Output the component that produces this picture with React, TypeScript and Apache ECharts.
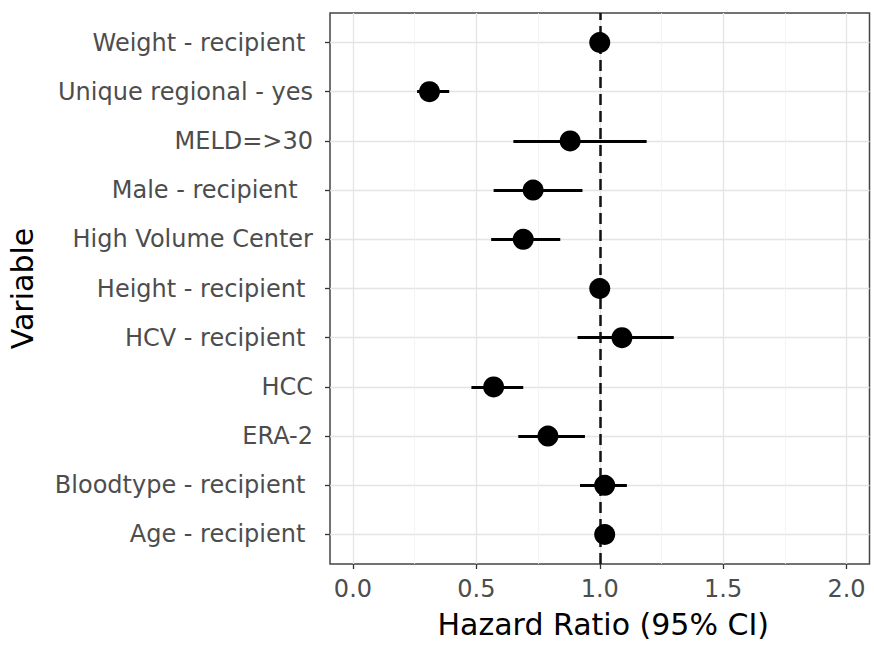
import React, { useEffect, useRef } from "react";
import * as echarts from "echarts";

// Rows listed top to bottom as they appear on the chart
const variables = [
  "Weight - recipient\u00a0",
  "Unique regional - yes",
  "MELD=>30",
  "Male - recipient\u00a0\u00a0",
  "High Volume Center",
  "Height - recipient\u00a0",
  "HCV - recipient\u00a0",
  "HCC",
  "ERA-2",
  "Bloodtype - recipient\u00a0",
  "Age - recipient\u00a0",
];
const hazardRatio = [1.0, 0.31, 0.88, 0.73, 0.69, 1.0, 1.09, 0.57, 0.79, 1.02, 1.02];
const ciLower = [0.99, 0.26, 0.65, 0.57, 0.56, 0.99, 0.91, 0.48, 0.67, 0.92, 1.01];
const ciUpper = [1.01, 0.39, 1.19, 0.93, 0.84, 1.01, 1.3, 0.69, 0.94, 1.11, 1.03];

const xTicks = [0, 0.5, 1, 1.5, 2];
const xMinorTicks = [0.25, 0.75, 1.25, 1.75];
const referenceValue = 1;
const xTitle = "Hazard Ratio (95% CI)";
const yTitle = "Variable";

const FONT = "DejaVu Sans";

export default function App() {
  const ref = useRef<HTMLDivElement>(null);

  useEffect(() => {
    if (!ref.current) return;
    const chart = echarts.init(ref.current, undefined, { renderer: "svg" });
    const n = variables.length;
    const rowValues = variables.map((_, i) => n - i);

    const minorGridLines = xMinorTicks.map((v) => ({
      xAxis: v,
      lineStyle: { color: "#F1F1F1", width: 0.8, type: "solid" },
    }));

    const errorBars = variables.map((_, i) => [
      { coord: [ciLower[i], n - i] },
      { coord: [ciUpper[i], n - i] },
    ]);

    const majorGrid = { show: true, lineStyle: { color: "#E4E4E4", width: 1.3, type: "solid" } };

    chart.setOption({
      animation: false,
      backgroundColor: "#ffffff",
      grid: {
        left: 330,
        right: 4.5,
        top: 13,
        bottom: 87,
        show: true,
        borderColor: "#444444",
        borderWidth: 1.5,
        backgroundColor: "transparent",
        containLabel: false,
        outerBoundsMode: "none",
      },
      xAxis: {
        type: "value",
        min: -0.093,
        max: 2.093,
        name: xTitle,
        nameLocation: "middle",
        nameGap: 45,
        nameTextStyle: { fontFamily: FONT, fontSize: 30, color: "#000000", padding: [0, 0, 0, 7] },
        axisLine: { show: false, onZero: false },
        axisTick: { show: true, customValues: xTicks, length: 5, lineStyle: { color: "#333333", width: 1.3 } },
        axisLabel: {
          customValues: xTicks,
          margin: 13,
          fontFamily: FONT,
          fontSize: 24,
          color: "#4D4D4D",
          formatter: (v: number) => v.toFixed(1),
        },
        splitLine: majorGrid,
      },
      yAxis: {
        type: "value",
        min: 0.4,
        max: 11.6,
        name: yTitle,
        nameLocation: "middle",
        nameGap: 293,
        nameTextStyle: { fontFamily: FONT, fontSize: 30, color: "#000000" },
        axisLine: { show: false, onZero: false },
        axisTick: { show: true, customValues: rowValues, length: 5, lineStyle: { color: "#333333", width: 1.3 } },
        axisLabel: {
          customValues: rowValues,
          margin: 17,
          fontFamily: FONT,
          fontSize: 24,
          color: "#4D4D4D",
          formatter: (v: number) => variables[n - Math.round(v)] ?? "",
        },
        splitLine: majorGrid,
      },
      series: [
        {
          type: "line",
          data: [],
          silent: true,
          z: 1,
          markLine: {
            silent: true,
            symbol: ["none", "none"],
            label: { show: false },
            lineStyle: { type: "solid" },
            data: minorGridLines,
          },
        },
        {
          type: "line",
          data: [],
          silent: true,
          z: 3,
          markLine: {
            silent: true,
            symbol: ["none", "none"],
            label: { show: false },
            lineStyle: { type: "solid", color: "#000000", width: 3, opacity: 1 },
            data: errorBars,
          },
        },
        {
          type: "line",
          data: [],
          silent: true,
          z: 4,
          markLine: {
            silent: true,
            symbol: ["none", "none"],
            label: { show: false },
            lineStyle: { type: [11, 6], color: "#111111", width: 2.5 },
            data: [{ xAxis: referenceValue }],
          },
        },
        {
          type: "scatter",
          z: 5,
          symbol: "circle",
          symbolSize: 21,
          itemStyle: { color: "#000000", opacity: 1 },
          data: hazardRatio.map((v, i) => [v, n - i]),
        },
      ],
    });

    return () => chart.dispose();
  }, []);

  return (
    <div
      ref={ref}
      style={{ position: "fixed", left: 0, top: 0, width: 874, height: 651, background: "#ffffff" }}
    />
  );
}
